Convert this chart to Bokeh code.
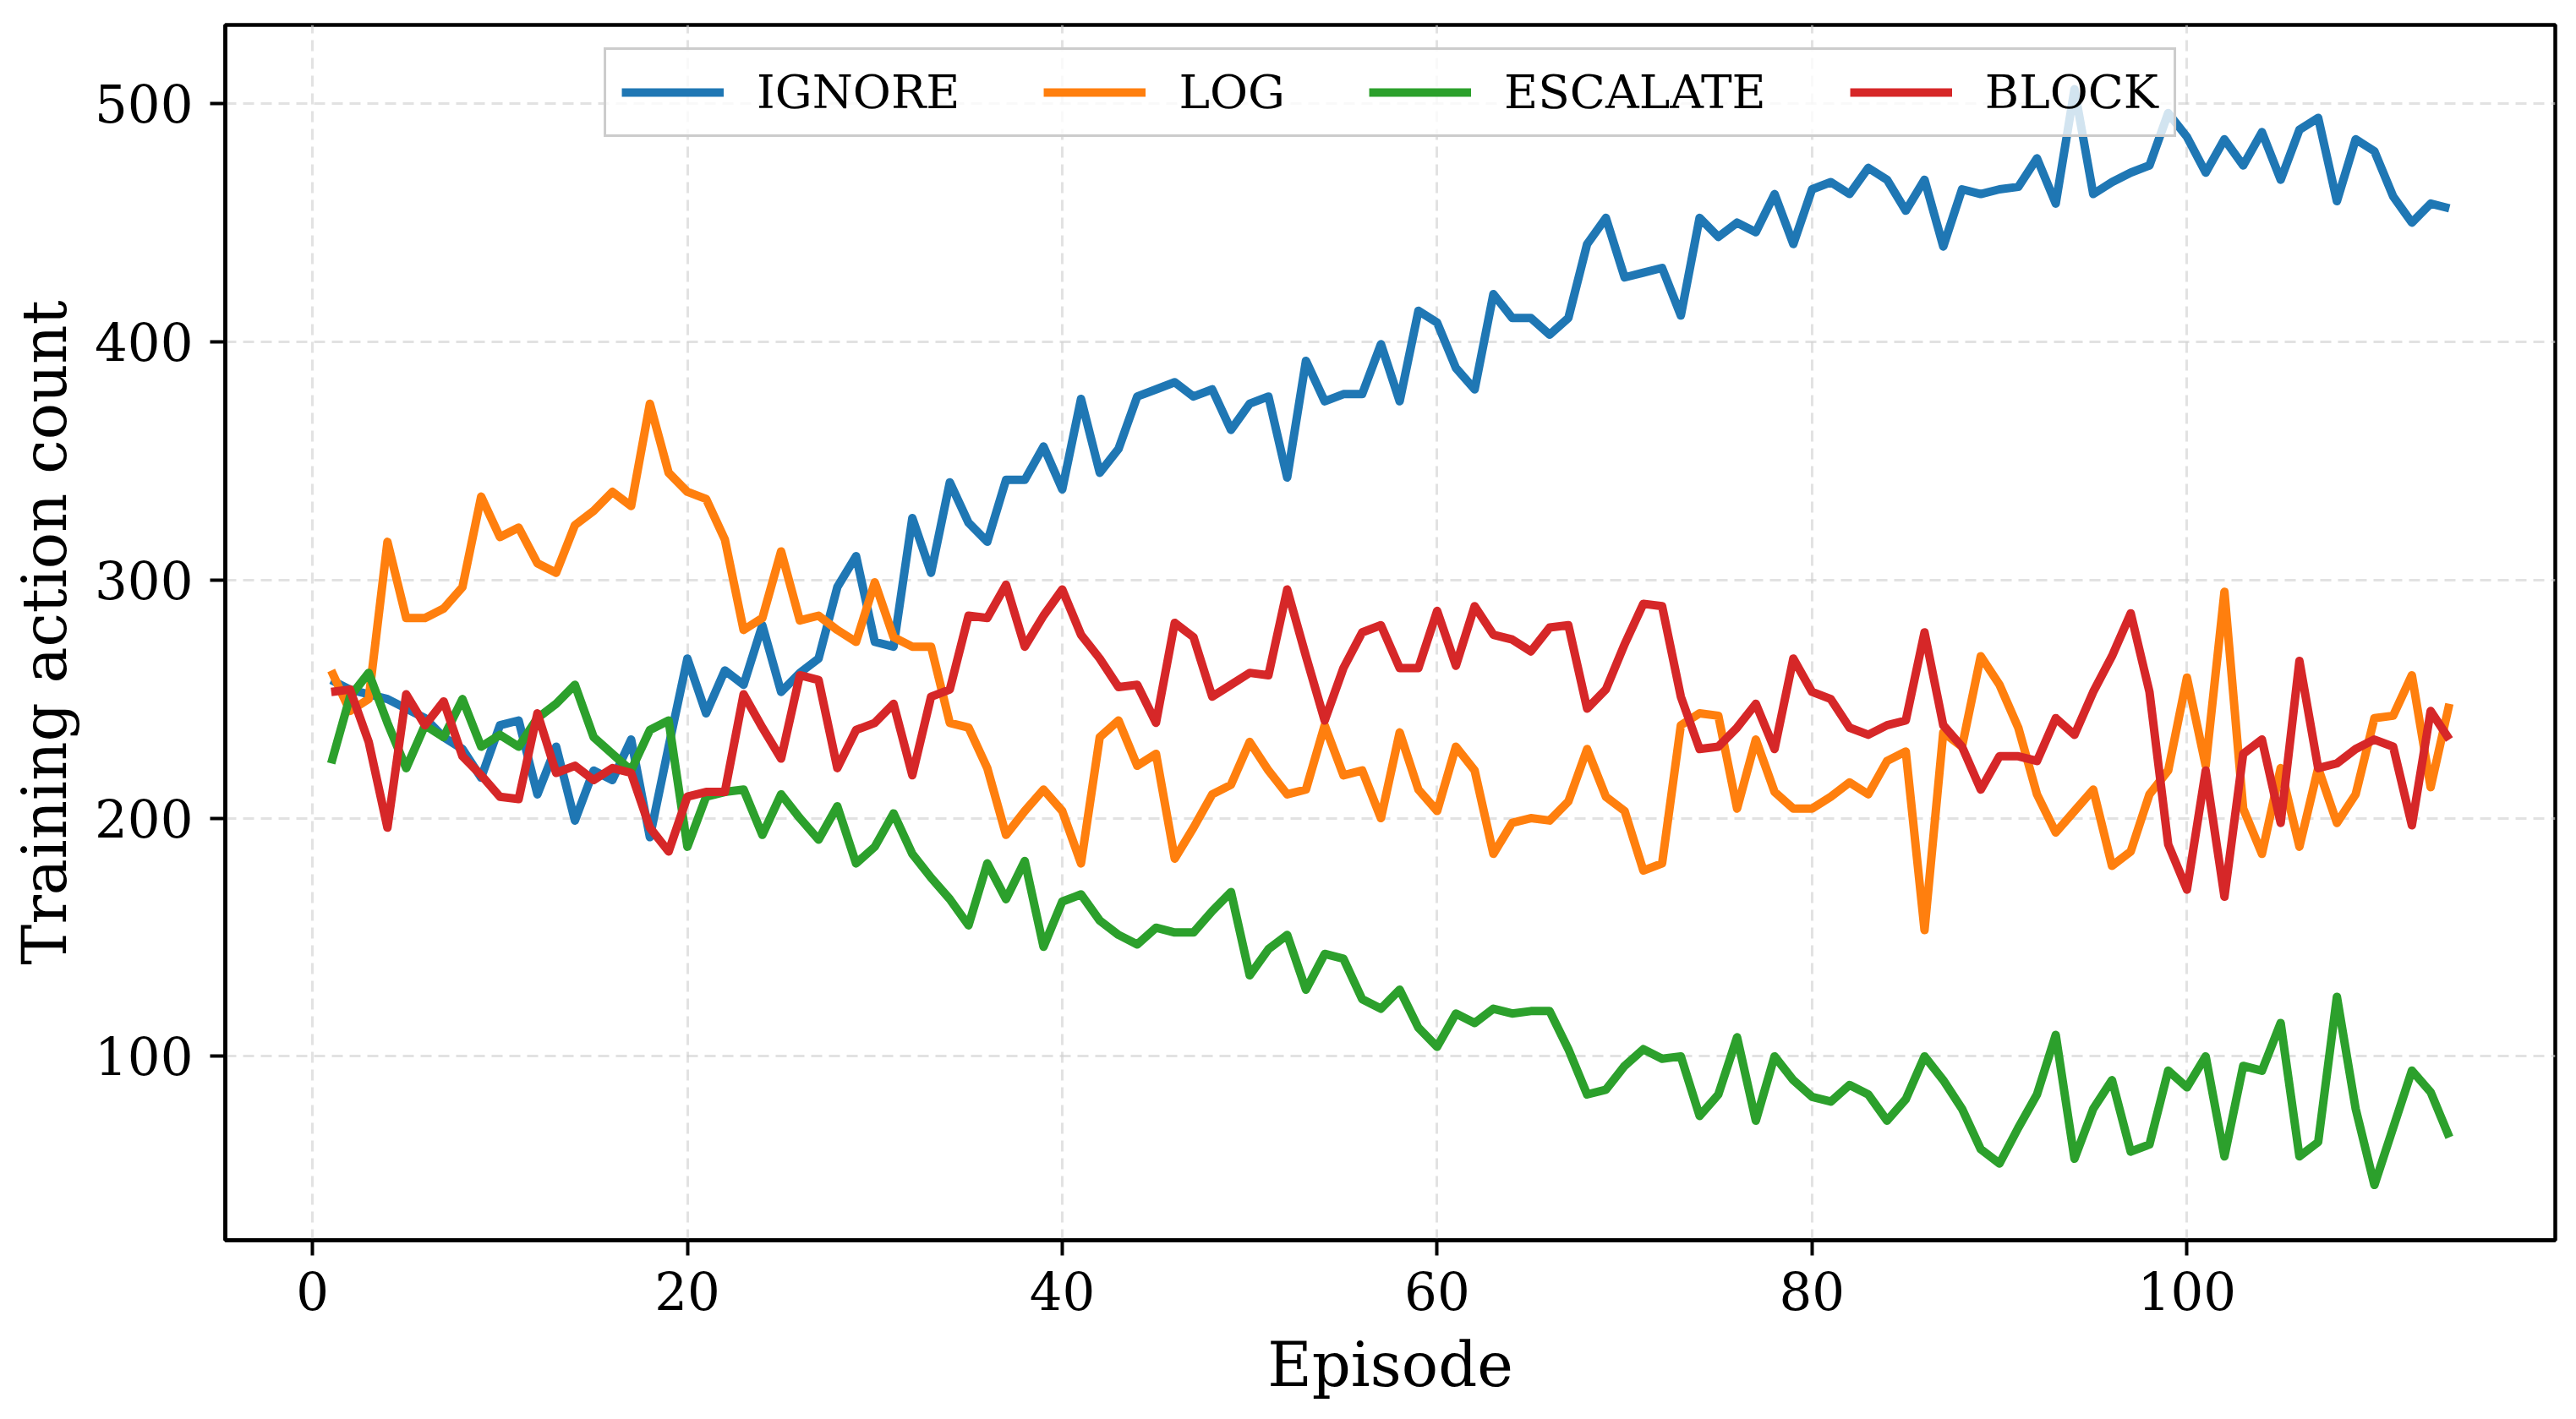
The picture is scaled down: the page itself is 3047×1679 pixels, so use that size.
from bokeh.plotting import figure
from bokeh.models import Legend, LegendItem, Range1d, FixedTicker, ColumnDataSource
from bokeh.embed import file_html
from bokeh.resources import INLINE

episodes = list(range(1, 115))

ignore = [258, 254, 252, 250, 246, 242, 234, 229, 217, 239, 241, 210, 230, 199, 220, 216, 233, 192, 230, 267,
          244, 262, 256, 281, 253, 261, 267, 297, 310, 274, 272, 326, 303, 341, 324, 316, 342, 342, 356, 338,
          376, 345, 355, 377, 380, 383, 377, 380, 363, 374, 377, 343, 392, 375, 378, 378, 399, 375, 413, 408,
          389, 380, 420, 410, 410, 403, 410, 441, 452, 427, 429, 431, 411, 452, 444, 450, 446, 462, 441, 464,
          467, 462, 473, 468, 455, 468, 440, 464, 462, 464, 465, 477, 458, 506, 462, 467, 471, 474, 496, 486,
          471, 485, 474, 488, 468, 489, 494, 459, 485, 480, 461, 450, 458, 456]

log = [262, 245, 250, 316, 284, 284, 288, 297, 335, 318, 322, 307, 303, 323, 329, 337, 331, 374, 345, 337,
       334, 317, 279, 284, 312, 283, 285, 279, 274, 299, 276, 272, 272, 240, 238, 221, 193, 203, 212, 203,
       181, 234, 241, 222, 227, 183, 196, 210, 214, 232, 220, 210, 212, 239, 218, 220, 200, 236, 212, 203,
       230, 220, 185, 198, 200, 199, 207, 229, 209, 203, 178, 181, 239, 244, 243, 204, 233, 211, 204, 204,
       209, 215, 210, 224, 228, 153, 236, 230, 268, 256, 238, 210, 194, 203, 212, 180, 186, 210, 220, 259,
       222, 295, 204, 185, 221, 188, 221, 198, 210, 242, 243, 260, 213, 248]

escalate = [223, 251, 261, 240, 221, 239, 234, 250, 230, 235, 230, 242, 248, 256, 234, 227, 220, 237, 241, 188,
            209, 211, 212, 193, 210, 200, 191, 205, 181, 188, 202, 185, 175, 166, 155, 181, 166, 182, 146, 165,
            168, 157, 151, 147, 154, 152, 152, 161, 169, 134, 145, 151, 128, 143, 141, 124, 120, 128, 112, 104,
            118, 114, 120, 118, 119, 119, 103, 84, 86, 96, 103, 99, 100, 75, 84, 108, 73, 100, 90, 83,
            81, 88, 84, 73, 82, 100, 90, 78, 61, 55, 70, 84, 109, 57, 78, 90, 60, 63, 94, 87,
            100, 58, 96, 94, 114, 58, 64, 125, 78, 46, 70, 94, 85, 66]

block = [253, 254, 232, 196, 252, 239, 249, 226, 218, 209, 208, 244, 219, 222, 216, 221, 219, 196, 186, 209,
         211, 211, 252, 238, 225, 260, 258, 221, 237, 240, 248, 218, 251, 254, 285, 284, 298, 272, 285, 296,
         277, 267, 255, 256, 240, 282, 276, 251, 256, 261, 260, 296, 268, 241, 263, 278, 281, 263, 263, 287,
         264, 289, 277, 275, 270, 280, 281, 246, 254, 273, 290, 289, 251, 229, 230, 238, 248, 229, 267, 253,
         250, 238, 235, 239, 241, 278, 239, 230, 212, 226, 226, 224, 242, 235, 253, 268, 286, 253, 189, 170,
         220, 167, 227, 233, 198, 266, 221, 223, 229, 233, 230, 197, 245, 233]

series_names = ["IGNORE", "LOG", "ESCALATE", "BLOCK"]
series_values = [ignore, log, escalate, block]
series_colors = ["#1f77b4", "#ff7f0e", "#2ca02c", "#d62728"]

x_ticks = [0, 20, 40, 60, 80, 100]
y_ticks = [100, 200, 300, 400, 500]

FONT = "DejaVu Serif"

p = figure(width=3030, height=1662, output_backend="svg", toolbar_location=None,
           x_range=Range1d(-4.65, 119.65), y_range=Range1d(22.8, 533.0))
p.min_border_left = 266
p.min_border_right = 8
p.min_border_top = 29
p.min_border_bottom = 195
p.background_fill_color = "white"
p.border_fill_color = "white"
p.outline_line_color = "black"
p.outline_line_width = 4.5
p.outline_line_alpha = 1.0

for ax in (p.xaxis[0], p.yaxis[0]):
    ax.axis_line_color = "black"
    ax.axis_line_width = 4.5
    ax.major_tick_out = 18
    ax.major_tick_in = 0
    ax.major_tick_line_width = 4
    ax.major_tick_line_color = "black"
    ax.minor_tick_line_color = None
    ax.major_label_text_font = FONT
    ax.major_label_text_font_size = "61px"
    ax.major_label_text_color = "black"
    ax.axis_label_text_font = FONT
    ax.axis_label_text_font_size = "72px"
    ax.axis_label_text_font_style = "normal"
    ax.axis_label_text_color = "black"

p.xaxis.ticker = FixedTicker(ticks=x_ticks)
p.yaxis.ticker = FixedTicker(ticks=y_ticks)
p.xaxis.axis_label = "Episode"
p.yaxis.axis_label = "Training action count"
p.xaxis.major_label_standoff = 19
p.yaxis.major_label_standoff = 20
p.xaxis.axis_label_standoff = 20
p.yaxis.axis_label_standoff = 14

p.grid.grid_line_color = "#cfcfcf"
p.grid.grid_line_alpha = 0.6
p.grid.grid_line_width = 3
p.grid.grid_line_dash = "13 8"
p.xgrid.ticker = FixedTicker(ticks=x_ticks)
p.ygrid.ticker = FixedTicker(ticks=y_ticks)

items = []
for name, vals, col in zip(series_names, series_values, series_colors):
    src = ColumnDataSource(dict(x=episodes, y=vals))
    r = p.line("x", "y", source=src, line_color=col, line_width=10, line_join="round")
    items.append(LegendItem(label=name, renderers=[r]))

legend = Legend(items=items, orientation="horizontal", location="top_center")
legend.margin = 27
legend.padding = 18
legend.spacing = 99
legend.glyph_width = 121
legend.glyph_height = 56
legend.label_height = 56
legend.label_standoff = 39
legend.label_text_font = FONT
legend.label_text_font_size = "55px"
legend.label_text_color = "black"
legend.border_line_color = "#cccccc"
legend.border_line_width = 3
legend.border_line_alpha = 1.0
legend.background_fill_color = "white"
legend.background_fill_alpha = 0.8
p.add_layout(legend)

open("out.html", "w").write(file_html(p, INLINE))
